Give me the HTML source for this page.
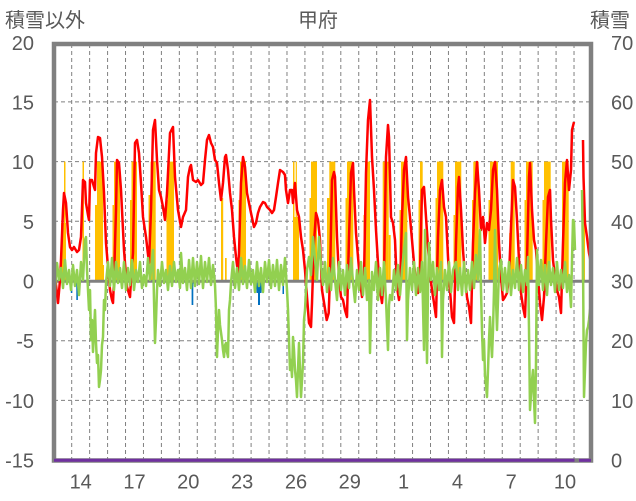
<!DOCTYPE html>
<html><head><meta charset="utf-8"><style>
html,body{margin:0;padding:0;background:#fff;}
svg{display:block;}
text{font-family:"Liberation Sans","Noto Sans CJK JP",sans-serif;fill:#595959;font-size:20px;}
</style></head><body>
<svg width="636" height="501" viewBox="0 0 636 501" xmlns="http://www.w3.org/2000/svg">
<rect x="0" y="0" width="636" height="501" fill="#fff"/>
<!-- gridlines -->
<g stroke="#808080" stroke-width="1" stroke-dasharray="4,3" fill="none">
<path d="M71.7 44V461M89.64 44V461M107.58 44V461M125.52 44V461M143.46 44V461M161.4 44V461M179.34 44V461M197.28 44V461M215.22 44V461M233.16 44V461M251.1 44V461M269.04 44V461M286.98 44V461M304.92 44V461M322.86 44V461M340.8 44V461M358.74 44V461M376.68 44V461M394.62 44V461M412.56 44V461M430.5 44V461M448.44 44V461M466.38 44V461M484.32 44V461M502.26 44V461M520.2 44V461M538.14 44V461M556.08 44V461M574.02 44V461"/>
<path d="M54 101.9H591M54 161.6H591M54 221.3H591M54 340.7H591M54 400.4H591"/>
</g>
<!-- orange bars -->
<g fill="#FFC000">
<rect x="61" y="223" width="5" height="58"/><rect x="64" y="161.6" width="1.5" height="119.4"/>
<rect x="82.5" y="161.6" width="1.5" height="119.4"/>
<rect x="95" y="205" width="2" height="76"/><rect x="97" y="161.6" width="6" height="119.4"/><rect x="103" y="265" width="1" height="16"/>
<rect x="112.5" y="205" width="1.5" height="76"/><rect x="114" y="161.6" width="6" height="119.4"/>
<rect x="130" y="200" width="1.5" height="81"/><rect x="131.5" y="161.6" width="5.5" height="119.4"/>
<rect x="148.5" y="195" width="2" height="86"/><rect x="150.5" y="161.6" width="5.2" height="119.4"/>
<rect x="166.5" y="200" width="1.5" height="81"/><rect x="168" y="161.6" width="6" height="119.4"/>
<rect x="221" y="198" width="2.2" height="83"/><rect x="225" y="258" width="1.7" height="23"/>
<rect x="238.5" y="200" width="1.5" height="81"/><rect x="240" y="161.6" width="6" height="119.4"/>
<rect x="293" y="217" width="6" height="64"/><rect x="293" y="161.6" width="1.5" height="119.4"/><rect x="295.7" y="161.6" width="1.2" height="119.4"/>
<rect x="309.5" y="198" width="1.5" height="83"/><rect x="311" y="161.6" width="6" height="119.4"/>
<rect x="327" y="198" width="2.5" height="83"/><rect x="329.3" y="161.6" width="6" height="119.4"/>
<rect x="345.5" y="198" width="1.5" height="83"/><rect x="347" y="161.6" width="6.3" height="119.4"/>
<rect x="363.5" y="215" width="1.5" height="66"/><rect x="365" y="161.6" width="5" height="119.4"/>
<rect x="382.7" y="161.6" width="6" height="119.4"/><rect x="388.7" y="235" width="2" height="46"/>
<rect x="399.5" y="210" width="1.5" height="71"/><rect x="401" y="161.6" width="6.3" height="119.4"/>
<rect x="418.5" y="200" width="1.5" height="81"/><rect x="420" y="161.6" width="2.7" height="119.4"/>
<rect x="435.5" y="198" width="1.5" height="83"/><rect x="437" y="161.6" width="6.3" height="119.4"/>
<rect x="453.5" y="215" width="1.5" height="66"/><rect x="455" y="161.6" width="6.3" height="119.4"/>
<rect x="472" y="200" width="1.5" height="81"/><rect x="473.3" y="161.6" width="5.4" height="119.4"/>
<rect x="488.5" y="200" width="1.5" height="81"/><rect x="490" y="161.6" width="8" height="119.4"/>
<rect x="509.2" y="233" width="1.5" height="48"/><rect x="510.7" y="161.6" width="4" height="119.4"/>
<rect x="524.5" y="200" width="1.5" height="81"/><rect x="526" y="161.6" width="6.7" height="119.4"/>
<rect x="542.5" y="200" width="1.5" height="81"/><rect x="544" y="161.6" width="6.7" height="119.4"/>
<rect x="562" y="161.6" width="6.7" height="119.4"/>
<rect x="581.7" y="192" width="3.3" height="89"/>
</g>
<!-- blue bars -->
<g fill="#0070C0">
<rect x="70.8" y="281" width="1.5" height="12"/>
<rect x="76.3" y="281" width="1.6" height="19"/>
<rect x="191.6" y="281" width="1.7" height="24"/><rect x="190" y="282" width="5" height="1.5"/>
<rect x="256.5" y="281" width="5" height="12"/><rect x="258" y="281" width="2" height="24"/>
<rect x="282.5" y="281" width="1.5" height="13"/>
</g>
<!-- zero line -->
<line x1="54" y1="281.2" x2="591" y2="281.2" stroke="#808080" stroke-width="3"/>
<!-- red line -->
<g fill="none" stroke="#FF0000" stroke-width="2.5" stroke-linejoin="round">
<polyline points="54,258 56,285 58,303 60,280 61,260 63,210 64,193 66,203 68,233 70,247 72,250 74,247 77,252 79,250 81,237 83,180 85,182 86,203 88,215 89,220 90,180 92,180 94,187 95,190 96,153 98,137 100,138 102,157 104,193 106,243 108,267 110,290 112,300 113,303 114,280 116,210 117,160 119,163 121,190 122,210 124,250 125,263 127,287 130,297 131,280 133,253 135,143 137,140 139,153 141,183 143,217 146,237 149,263 151,210 153,130 155,120 157,160 159,190 161,197 163,207 165,220 167,193 170,133 173,127 175,177 178,210 181,227 183,217 186,210 188,177 190,167 191,165 193,180 196,182 198,180 201,185 203,183 205,160 207,140 209,135 211,143 213,147 215,160 217,163 219,183 221,200 223,183 225,157 226,155 228,170 230,193 232,210 234,237 236,257 238,273 239,253 241,183 243,157 245,167 247,193 249,203 251,213 254,227 256,223 258,213 260,207 263,202 265,203 267,207 270,210 272,213 274,210 276,197 278,183 280,170 283,172 285,175 286,190 288,203 290,190 292,190 293,203 295,183 297,210 299,217 301,237 303,250 305,270 307,297 309,323 311,327 312,303 314,243 316,213 318,220 320,240 322,290 324.7,307 326.7,320 328.7,313 330,277 332,180 334,172 335,177 337,237 339,277 341,297 343,300 345,310 347,317 349,237 351,173 353,163 354,190 356,233 358,257 360,280 362,297 364,277 366,173 368,120 370,100 372,157 374,190 376,230 378,263 380,290 382,303 384,277 386,157 388,125 389,137 391,217 393,223 395,240 397,287 399,300 400,290 402,217 404,170 406,157 408,197 410,217 412,240 414,263 416,283 418,293 420,270 422,190 424,187 426,217 428,247 430,273 432,290 434,303 436,317 438,237 440,190 442,180 444,207 446,217 448,257 450,290 452,317 454,323 456,243 458,187 459,177 461,210 463,250 465,277 467,297 469,307 471,323 473,243 475,193 477,162 479,190 481,230 483,217 485,243 487,223 489,230 491,210 493,170 495,162 497,190 499,243 501,277 503,300 505,297 507,293 509,277 511,227 513,180 515,187 517,220 519,260 521,293 523,307 525,317 527,260 529,177 530,163 532,210 534,240 536,250 538,277 540,303 542,320 544,297 546,243 548,197 550,190 551,220 553,260 555,277 557,290 559,297 561,313 563,243 565,183 567,160 569,190 571,170 572,130 574,122"/>
<polyline points="583,140 583.5,177 585,223 587,237 589,253 591,263"/>
</g>
<!-- green line -->
<g fill="none" stroke="#92D050" stroke-width="2.5" stroke-linejoin="round">
<polyline points="54,316 55,290 57,263 59,280 61,268 63,288 65,260 67,284 69,270 71,290 73,265 75,286 77,270 79,295 81,262 83,280 85,240 86,237 87,270 89,310 90,290 91,340 92,320 93,352 94,330 95,310 96,343 97,363 98,355 99,387 100,380 101,370 102,345 103,337 104,300 105,310 106,283 108,262 110,286 112,258 114,290 116,262 118,283 120,268 122,288 124,262 126,290 128,268 130,285 132,260 134,290 136,270 138,282 140,262 142,288 144,275 146,286 148,258 150,280 151,270 153,250 154,300 155,343 156,320 157,290 158,270 160,286 162,262 164,283 166,270 168,290 170,266 172,286 174,262 176,282 178,270 180,288 181,253 183,283 185,268 187,290 189,260 191,288 193,258 195,286 197,262 199,284 201,256 203,288 205,262 207,282 209,258 211,285 213,265 215,285 216,310 217,357 218,330 219,310 220,325 222,340 223,350 224,357 225,345 226,343 227,352 228,357 229,310 230,300 231,283 233,262 235,288 237,268 239,290 241,258 243,284 245,266 247,288 249,260 251,284 253,270 255,292 257,262 259,286 261,268 263,292 265,262 267,282 269,260 271,288 273,265 275,286 277,260 279,290 281,265 283,285 285,258 287,290 288,310 290,370 291,360 292,377 293,337 294,350 295,370 296,380 297,397 298,370 299,343 300,370 301,397 302,380 303,363 304,320 305,310 306,290 307,270 309,257 311,275 313,237 315,260 317,280 319,237 321,265 323,285 325,262 327,292 329,268 331,290 333,258 335,280 337,300 339,262 341,290 343,270 345,295 347,265 349,288 351,258 353,282 355,302 357,270 359,290 361,262 363,295 365,268 367,300 369,280 370,353 371,310 372,272 374,290 376,262 378,300 380,268 382,295 384,262 386,300 388,350 389,305 390,295 392,300 394,270 396,290 398,265 400,295 402,270 404,250 406,233 407,340 408,300 410,268 412,290 414,262 416,295 418,268 420,292 422,262 424,350 425,230 426,300 427,363 428,290 429,243 431,280 433,262 435,295 437,268 439,290 441,262 442,357 443,300 445,270 447,290 449,262 451,292 453,270 456,262 458,290 460,268 462,295 464,262 466,292 468,270 470,290 472,262 474,288 476,255 478,280 480,230 481,290 482,330 483,360 484,340 485,375 486,385 487,397 488,370 489,340 490,317 491,340 492,357 493,330 494,290 495,230 496,300 497,330 498,300 499,270 501,260 503,290 505,268 507,292 509,262 511,295 513,270 515,288 517,258 519,290 521,265 523,292 525,270 527,285 528,257 529,330 530,410 531,395 532,380 533,370 534,400 535,423 536,363 537,250 539,285 541,260 543,290 545,265 547,295 549,262 551,285 553,268 555,292 557,262 559,290 561,270 563,288 565,262 567,292 569,275 571,307 572,260 573,220 574,222 575,250"/>
<polyline points="582,190 583,260 584,397 585,370 586,343 587,330 588,327 589,320 590,310 591,305"/>
</g>
<!-- frame -->
<rect x="54" y="44" width="537" height="416.5" fill="none" stroke="#808080" stroke-width="4.5"/>
<!-- purple snow line -->
<line x1="54" y1="460.3" x2="574.5" y2="460.3" stroke="#7030A0" stroke-width="3"/>
<line x1="579" y1="460.3" x2="591" y2="460.3" stroke="#7030A0" stroke-width="3"/>
<!-- titles -->
<text x="5" y="27">積雪以外</text>
<text x="298" y="27">甲府</text>
<text x="590" y="27">積雪</text>
<!-- left axis labels -->
<g text-anchor="end">
<text x="34" y="50">20</text>
<text x="34" y="109.4">15</text>
<text x="34" y="169.1">10</text>
<text x="34" y="228.8">5</text>
<text x="34" y="288.5">0</text>
<text x="34" y="348.2">-5</text>
<text x="34" y="407.9">-10</text>
<text x="34" y="467.6">-15</text>
</g>
<!-- right axis labels -->
<g text-anchor="start">
<text x="611" y="50">70</text>
<text x="611" y="109.4">60</text>
<text x="611" y="169.1">50</text>
<text x="611" y="228.8">40</text>
<text x="611" y="288.5">30</text>
<text x="611" y="348.2">20</text>
<text x="611" y="407.9">10</text>
<text x="611" y="467.6">0</text>
</g>
<!-- x labels -->
<g text-anchor="middle">
<text x="80.7" y="488.3">14</text>
<text x="134.5" y="488.3">17</text>
<text x="188.3" y="488.3">20</text>
<text x="242.1" y="488.3">23</text>
<text x="296" y="488.3">26</text>
<text x="349.8" y="488.3">29</text>
<text x="403.6" y="488.3">1</text>
<text x="457.4" y="488.3">4</text>
<text x="511.2" y="488.3">7</text>
<text x="565" y="488.3">10</text>
</g>
</svg>
</body></html>
